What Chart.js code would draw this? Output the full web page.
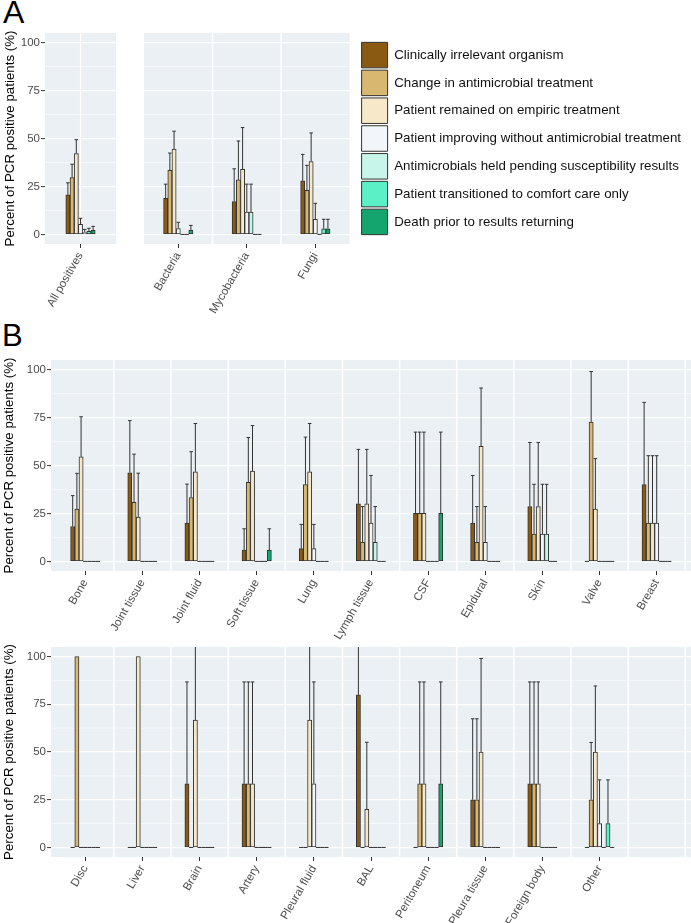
<!DOCTYPE html>
<html>
<head>
<meta charset="utf-8">
<script src="https://cdn.jsdelivr.net/npm/chart.js@4.4.0/dist/chart.umd.min.js"></script>
<style>
body { margin: 0; background: #fff; width: 691px; height: 923px; overflow: hidden; position: relative; font-family: "Liberation Sans", Arial, sans-serif; }
canvas { position: absolute; }
.tag { position: absolute; line-height: 1; color: #000; }
</style>
</head>
<body>
<div class="tag" style="left:3px;top:-4px;font-size:32px;line-height:32px">A</div>
<div class="tag" style="left:2px;top:320px;font-size:31px;line-height:31px">B</div>
<canvas id="aLeft" style="left:0;top:0" width="116" height="330"></canvas>
<canvas id="aRight" style="left:144px;top:0" width="547" height="330"></canvas>
<canvas id="bTop" style="left:0;top:320px" width="691" height="320"></canvas>
<canvas id="bBottom" style="left:0;top:630px" width="691" height="293"></canvas>
<script>
// outcome groups (legend order)
const seriesNames = [
    'Clinically irrelevant organism',
    'Change in antimicrobial treatment',
    'Patient remained on empiric treatment',
    'Patient improving without antimicrobial treatment',
    'Antimicrobials held pending susceptibility results',
    'Patient transitioned to comfort care only',
    'Death prior to results returning'
];
const seriesColors = ['#8B5A12', '#D8B870', '#F6E8C8', '#F2F6FA', '#C8F5EA', '#5CF0C6', '#14A56E'];

const yTicks = [0, 25, 50, 75, 100];
const yMinor = [12.5, 37.5, 62.5, 87.5];

// panel A - all positives
const allCats = ['All positives'];
const allPct   = [[20.6], [29.6], [42.1], [5.2], [1.0], [1.6], [2.1]];
const allUpper = [[26.9], [36.6], [49.4], [8.4], [2.6], [3.2], [4.2]];

// panel A - by organism type
const orgCats = ['Bacteria', 'Mycobacteria', 'Fungi'];
const orgPct = [
    [18.8, 17.1, 27.9],
    [33.4, 28.4, 23.0],
    [44.5, 33.9, 38.0],
    [3.1, 11.7, 7.9],
    [0, 11.7, 0],
    [0, 0, 2.9],
    [2.3, 0, 2.9]
];
const orgUpper = [
    [26.2, 34.2, 41.7],
    [42.4, 48.7, 36.0],
    [53.8, 55.7, 52.9],
    [6.3, 26.2, 16.2],
    [0, 26.2, 0],
    [0, 0, 7.9],
    [4.7, 0, 7.9]
];

// panel B - sample sites, first row
const siteCats1 = ['Bone', 'Joint tissue', 'Joint fluid', 'Soft tissue', 'Lung', 'Lymph tissue', 'CSF', 'Epidural', 'Skin', 'Valve', 'Breast'];
const sitePct1 = [
    [18.2, 46.2, 20.0, 5.9, 6.7, 30, 25, 20, 28.6, 0, 40],
    [27.3, 30.8, 33.3, 41.2, 40.0, 10, 25, 10, 14.3, 72.7, 20],
    [54.5, 23.1, 46.7, 47.1, 46.7, 30, 25, 60, 28.6, 27.3, 20],
    [0, 0, 0, 0, 6.7, 20, 0, 10, 14.3, 0, 20],
    [0, 0, 0, 0, 0, 10, 0, 0, 14.3, 0, 0],
    [0, 0, 0, 0, 0, 0, 0, 0, 0, 0, 0],
    [0, 0, 0, 5.9, 0, 0, 25, 0, 0, 0, 0]
];
const siteUpper1 = [
    [34.3, 73.4, 40.3, 17.0, 19.3, 58.4, 67.4, 44.8, 62.0, 0, 82.9],
    [45.9, 55.9, 57.2, 64.6, 64.8, 28.6, 67.4, 28.6, 40.2, 99.0, 55.1],
    [75.4, 46.0, 71.9, 70.8, 71.9, 58.4, 67.4, 90.4, 62.0, 53.6, 55.1],
    [0, 0, 0, 0, 19.3, 44.8, 0, 28.6, 40.2, 0, 55.1],
    [0, 0, 0, 0, 0, 28.6, 0, 0, 40.2, 0, 0],
    [0, 0, 0, 0, 0, 0, 0, 0, 0, 0, 0],
    [0, 0, 0, 17.0, 0, 0, 67.4, 0, 0, 0, 0]
];

// panel B - sample sites, second row
const siteCats2 = ['Disc', 'Liver', 'Brain', 'Artery', 'Pleural fluid', 'BAL', 'Peritoneum', 'Pleura tissue', 'Foreign body', 'Other'];
const sitePct2 = [
    [0, 0, 33.3, 33.3, 0, 80, 0, 25, 33.3, 0],
    [100, 0, 0, 33.3, 0, 0, 33.3, 25, 33.3, 25],
    [0, 100, 66.7, 33.3, 66.7, 20, 33.3, 50, 33.3, 50],
    [0, 0, 0, 0, 33.3, 0, 0, 0, 0, 12.5],
    [0, 0, 0, 0, 0, 0, 0, 0, 0, 0],
    [0, 0, 0, 0, 0, 0, 0, 0, 0, 12.5],
    [0, 0, 0, 0, 0, 0, 33.3, 0, 0, 0]
];
const siteUpper2 = [
    [0, 0, 86.7, 86.7, 0, 115.1, 0, 67.4, 86.7, 0],
    [100, 0, 0, 86.7, 0, 0, 86.7, 67.4, 86.7, 55.0],
    [0, 100, 120, 86.7, 120, 55.1, 86.7, 99.0, 86.7, 84.6],
    [0, 0, 0, 0, 86.7, 0, 0, 0, 0, 35.4],
    [0, 0, 0, 0, 0, 0, 0, 0, 0, 0],
    [0, 0, 0, 0, 0, 0, 0, 0, 0, 35.4],
    [0, 0, 0, 0, 0, 0, 86.7, 0, 0, 0]
];

Chart.defaults.font.family = '"Liberation Sans", Arial, sans-serif';

// grey panel, minor grid, white facet gaps, zero lines and error bars
const panelPlugin = {
    id: 'panel',
    beforeDraw(chart) {
        const a = chart.chartArea;
        const ctx = chart.ctx;
        ctx.save();
        ctx.fillStyle = '#EAF0F4';
        ctx.fillRect(a.left, a.top, a.width, a.height);
        ctx.restore();
    },
    beforeDatasetsDraw(chart, args, opts) {
        const {ctx, chartArea: a, scales: {x, y}} = chart;
        ctx.save();
        ctx.strokeStyle = '#fff';
        ctx.lineWidth = 0.6;
        yMinor.forEach(v => {
            const py = y.getPixelForValue(v);
            ctx.beginPath(); ctx.moveTo(a.left, py); ctx.lineTo(a.right, py); ctx.stroke();
        });
        ctx.lineWidth = opts.sepWidth || 1.5;
        (opts.seps || []).forEach(v => {
            const px = x.getPixelForValue(v);
            ctx.beginPath(); ctx.moveTo(px, a.top); ctx.lineTo(px, a.bottom); ctx.stroke();
        });
        ctx.restore();
    },
    afterDatasetsDraw(chart) {
        const {ctx, chartArea: a, scales: {y}} = chart;
        ctx.save();
        ctx.beginPath();
        ctx.rect(a.left, a.top, a.width, a.height);
        ctx.clip();
        ctx.strokeStyle = '#333';
        ctx.lineWidth = 1;
        chart.data.datasets.forEach((ds, s) => {
            chart.getDatasetMeta(s).data.forEach((bar, i) => {
                const half = bar.width / 2;
                ctx.beginPath();
                if (ds.data[i] === 0) {
                    ctx.moveTo(bar.x - half, bar.base);
                    ctx.lineTo(bar.x + half, bar.base);
                }
                const up = ds.upper[i];
                if (up > ds.data[i]) {
                    const top = y.getPixelForValue(up);
                    ctx.moveTo(bar.x, bar.y);
                    ctx.lineTo(bar.x, top);
                    ctx.moveTo(bar.x - half * 0.85, top);
                    ctx.lineTo(bar.x + half * 0.85, top);
                }
                ctx.stroke();
            });
        });
        ctx.restore();
    }
};

function facetChart(id, cats, pct, upper, cfg) {
    const yAxis = cfg.yLabels ? {
        min: -5, max: 105, position: 'left',
        afterBuildTicks: sc => { sc.ticks = yTicks.map(v => ({value: v})); },
        ticks: {color: '#4D4D4D', font: {size: 11.5}, padding: 1},
        grid: {color: '#fff', lineWidth: 1.2, tickColor: '#333', tickLength: 4, tickWidth: 1},
        border: {display: false},
        title: {display: true, text: 'Percent of PCR positive patients (%)', color: '#000',
                font: {size: 13.3}, padding: {top: cfg.titlePad, bottom: 0}},
        afterFit: sc => { sc.width = cfg.yw; }
    } : {
        min: -5, max: 105, position: 'right',
        afterBuildTicks: sc => { sc.ticks = yTicks.map(v => ({value: v})); },
        ticks: {display: false},
        grid: {color: '#fff', lineWidth: 1.2, drawTicks: false},
        border: {display: false},
        afterFit: sc => { sc.width = cfg.yw; }
    };

    return new Chart(document.getElementById(id), {
        type: 'bar',
        data: {
            labels: cats.map((c, i) => i),
            datasets: seriesNames.map((name, s) => ({
                label: name,
                data: pct[s],
                upper: upper[s],
                backgroundColor: seriesColors[s],
                borderColor: '#333',
                borderWidth: 1,
                borderSkipped: false,
                barThickness: 4.2
            }))
        },
        options: {
            responsive: false,
            animation: false,
            layout: {padding: {top: cfg.top, left: 0, right: 0, bottom: 0}},
            plugins: {
                legend: cfg.legend || {display: false},
                tooltip: {enabled: false},
                panel: {seps: cfg.seps, sepWidth: cfg.sepWidth}
            },
            scales: {
                x: {
                    type: 'linear', min: cfg.xmin, max: cfg.xmax, offset: false,
                    afterBuildTicks: sc => { sc.ticks = cats.map((c, i) => ({value: i})); },
                    grid: {display: true, drawOnChartArea: false, offset: false, tickLength: 4, tickColor: '#333', tickWidth: 1},
                    border: {display: false},
                    ticks: {
                        autoSkip: false, minRotation: 60, maxRotation: 60, padding: 2,
                        color: '#4D4D4D', font: {size: 11.5},
                        callback: v => cats[v]
                    },
                    afterFit: sc => { sc.height = cfg.xh; }
                },
                y: yAxis
            }
        },
        plugins: [panelPlugin]
    });
}

facetChart('aLeft', allCats, allPct, allUpper, {
    top: 33, xh: 86, yw: 45, yLabels: true, titlePad: 2,
    xmin: -0.5, xmax: 0.5, seps: [0], sepWidth: 1.2
});

facetChart('aRight', orgCats, orgPct, orgUpper, {
    top: 33, xh: 86, yw: 9.7, yLabels: false,
    xmin: -0.5, xmax: 2.5, seps: [0.5, 1.5], sepWidth: 1.6,
    legend: {
        display: true, position: 'right', align: 'center', fullSize: false, maxWidth: 400,
        labels: {boxWidth: 26, boxHeight: 25.5, padding: 2.3, color: '#111', font: {size: 13.3}}
    }
});

const siteSeps = [0.5, 1.5, 2.5, 3.5, 4.5, 5.5, 6.5, 7.5, 8.5, 9.5, 10.5];

facetChart('bTop', siteCats1, sitePct1, siteUpper1, {
    top: 40, xh: 69, yw: 51, yLabels: true, titlePad: 1,
    xmin: -0.6, xmax: 10.6, seps: siteSeps, sepWidth: 1.6
});

facetChart('bBottom', siteCats2, sitePct2, siteUpper2, {
    top: 17, xh: 66, yw: 51, yLabels: true, titlePad: 1,
    xmin: -0.6, xmax: 10.6, seps: siteSeps, sepWidth: 1.6
});
</script>
</body>
</html>
